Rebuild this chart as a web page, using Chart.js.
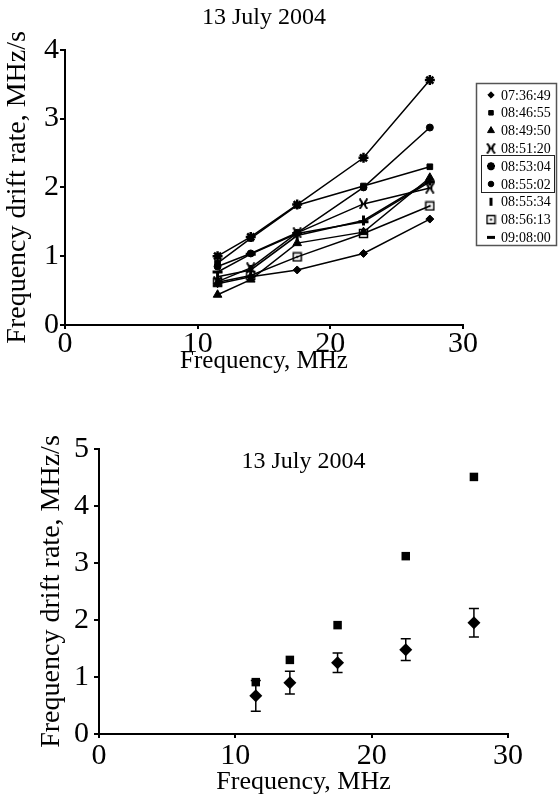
<!DOCTYPE html>
<html>
<head>
    <title>Frequency drift rate, 13 July 2004</title>
    <script src="https://cdn.jsdelivr.net/npm/chart.js"></script>
    <style>
        body { margin: 0; background: #fff; }
        .box { position: absolute; left: 0; }
    </style>
</head>
<body>
<div class="box" style="top:0"><canvas id="topChart" width="558" height="376"></canvas></div>
<div class="box" style="top:400px"><canvas id="bottomChart" width="558" height="398"></canvas></div>
<script>
// frequencies the drift rates were measured at (MHz)
var freqs = [11.5, 14, 17.5, 22.5, 27.5];

// top panel: one series per burst time
var times = ['07:36:49', '08:46:55', '08:49:50', '08:51:20', '08:53:04', '08:55:02', '08:55:34', '08:56:13', '09:08:00'];
var rate0736 = [0.60, 0.70, 0.80, 1.04, 1.54];
var rate0846 = [0.90, 1.26, 1.74, 2.02, 2.30];
var rate0849 = [0.44, 0.66, 1.19, 1.35, 2.14];
var rate0851 = [0.63, 0.83, 1.34, 1.76, 1.99];
var rate0853 = [1.00, 1.28, 1.75, 2.43, 3.56];
var rate0855a = [0.85, 1.04, 1.34, 2.00, 2.87];
var rate0855b = [0.70, 0.80, 1.30, 1.52, 2.10];
var rate0856 = [0.62, 0.72, 0.99, 1.33, 1.73];
var rate0908 = [0.77, 1.03, 1.33, 1.50, 2.08];

// bottom panel: maximum and mean drift rate with spread
var maxRate = [0.91, 1.30, 1.91, 3.12, 4.51];
var meanRate = [0.67, 0.90, 1.25, 1.48, 1.95];
var meanErr = [0.27, 0.20, 0.17, 0.19, 0.25];

var xTicks = [0, 10, 20, 30];

var serif = "'Liberation Serif', 'Times New Roman', serif";
Chart.defaults.font.family = serif;
Chart.defaults.color = '#000';

// a few markers chart.js has no style for
function marker(draw) {
    var c = document.createElement('canvas');
    c.width = 11; c.height = 11;
    var g = c.getContext('2d');
    g.strokeStyle = '#000'; g.fillStyle = '#000';
    draw(g);
    return c;
}
var bowtie = marker(function(g) {
    g.lineWidth = 2;
    g.beginPath();
    g.moveTo(1.5, 0.5); g.quadraticCurveTo(7, 5.5, 1.5, 10.5);
    g.moveTo(9.5, 0.5); g.quadraticCurveTo(4, 5.5, 9.5, 10.5);
    g.moveTo(3, 5.5); g.lineTo(8, 5.5);
    g.stroke();
});
var openSquare = marker(function(g) {
    g.lineWidth = 1.5;
    g.strokeRect(1.5, 1.5, 8, 8);
    g.fillRect(4.5, 4.5, 2, 2);
});

function pts(ys) {
    return freqs.map(function(f, i) { return {x: f, y: ys[i]}; });
}

var styles = [
    {pointStyle: 'rectRot', pointRadius: 4},
    {pointStyle: 'rect', pointRadius: 4},
    {pointStyle: 'triangle', pointRadius: 5},
    {pointStyle: bowtie, pointRadius: 5},
    {pointStyle: 'star', pointRadius: 5, pointBorderWidth: 2.5},
    {pointStyle: 'circle', pointRadius: 3.5},
    {pointStyle: 'line', pointRadius: 5, pointRotation: 90, pointBorderWidth: 3},
    {pointStyle: openSquare, pointRadius: 5},
    {pointStyle: 'line', pointRadius: 5, pointBorderWidth: 3}
];
var series = [rate0736, rate0846, rate0849, rate0851, rate0853, rate0855a, rate0855b, rate0856, rate0908];

var topSets = series.map(function(s, i) {
    return Object.assign({
        label: times[i],
        data: pts(s),
        showLine: true,
        borderColor: '#000',
        backgroundColor: '#000',
        borderWidth: 1.5,
        pointBorderWidth: 1,
        pointBorderColor: '#000',
        pointBackgroundColor: '#000'
    }, styles[i]);
});

// boxed legend at the right of the top panel
var boxLegend = {
    id: 'boxLegend',
    afterDraw: function(chart) {
        var ctx = chart.ctx;
        ctx.save();
        ctx.strokeStyle = '#555';
        ctx.lineWidth = 1.5;
        ctx.strokeRect(476.5, 83.5, 80, 162);
        ctx.strokeStyle = '#222';
        ctx.lineWidth = 1;
        ctx.strokeRect(481.5, 155.5, 73, 37);
        ctx.font = '14px ' + serif;
        ctx.textBaseline = 'middle';
        ctx.textAlign = 'left';
        chart.data.datasets.forEach(function(ds, i) {
            var y = 95 + i * 17.8;
            ctx.fillStyle = '#000';
            ctx.strokeStyle = '#000';
            ctx.lineWidth = ds.pointBorderWidth;
            Chart.helpers.drawPoint(ctx, {
                pointStyle: ds.pointStyle,
                radius: ds.pointRadius * 0.8,
                rotation: ds.pointRotation || 0,
                borderWidth: ds.pointBorderWidth
            }, 491, y);
            ctx.fillStyle = '#000';
            ctx.fillText(ds.label, 501, y + 1);
        });
        ctx.restore();
    }
};

function axis(min, max, step, size) {
    return {
        type: 'linear', min: min, max: max,
        ticks: {stepSize: step, font: {size: 30}, padding: size.pad, maxRotation: 0},
        grid: {drawOnChartArea: false, drawTicks: true, tickLength: size.tick, color: '#000', lineWidth: 2},
        border: {color: '#000', width: 2}
    };
}

var topX = axis(0, 30, 10, {pad: -3, tick: 4});
topX.afterBuildTicks = function(s) { s.ticks = xTicks.map(function(v) { return {value: v}; }); };
topX.title = {display: true, text: 'Frequency, MHz', font: {size: 25}, padding: {top: 0, bottom: 0}};
topX.afterFit = function(s) { s.height = 51; };
var topY = axis(0, 4, 1, {pad: 1, tick: 5});
topY.title = {display: true, text: 'Frequency drift rate, MHz/s', font: {size: 28}, padding: {top: 1, bottom: 0}};
topY.afterFit = function(s) { s.width = 65; };

new Chart(document.getElementById('topChart'), {
    type: 'scatter',
    data: {datasets: topSets},
    options: {
        responsive: false,
        animation: false,
        devicePixelRatio: 1,
        layout: {padding: {left: 0, right: 95, top: 0, bottom: 0}},
        plugins: {
            legend: {display: false},
            tooltip: {enabled: false},
            title: {display: true, text: '13 July 2004', fullSize: false, color: '#000',
                    font: {size: 24, weight: 'normal'}, padding: {top: 3, bottom: 18}}
        },
        scales: {x: topX, y: topY}
    },
    plugins: [boxLegend]
});

// error bars on the mean values
var errorBars = {
    id: 'errorBars',
    beforeDatasetsDraw: function(chart) {
        var ctx = chart.ctx, xs = chart.scales.x, ys = chart.scales.y;
        ctx.save();
        ctx.strokeStyle = '#000';
        ctx.lineWidth = 1.5;
        freqs.forEach(function(f, i) {
            var x = xs.getPixelForValue(f);
            var y1 = ys.getPixelForValue(meanRate[i] + meanErr[i]);
            var y2 = ys.getPixelForValue(meanRate[i] - meanErr[i]);
            ctx.beginPath();
            ctx.moveTo(x, y1); ctx.lineTo(x, y2);
            ctx.moveTo(x - 5, y1); ctx.lineTo(x + 5, y1);
            ctx.moveTo(x - 5, y2); ctx.lineTo(x + 5, y2);
            ctx.stroke();
        });
        ctx.restore();
    }
};

var botX = axis(0, 30, 10, {pad: 0, tick: 4});
botX.afterBuildTicks = topX.afterBuildTicks;
botX.title = {display: true, text: 'Frequency, MHz', font: {size: 26}, padding: {top: 0, bottom: 0}};
botX.afterFit = function(s) { s.height = 64; };
var botY = axis(0, 5, 1, {pad: 5, tick: 5});
botY.title = {display: true, text: 'Frequency drift rate, MHz/s', font: {size: 28}, padding: {top: 35, bottom: 0}};
botY.afterFit = function(s) { s.width = 99; };

new Chart(document.getElementById('bottomChart'), {
    type: 'scatter',
    data: {
        datasets: [
            {label: 'max', data: pts(maxRate), pointStyle: 'rect', pointRadius: 6,
             backgroundColor: '#000', borderColor: '#000', pointBorderWidth: 0},
            {label: 'mean', data: pts(meanRate), pointStyle: 'rectRot', pointRadius: 6.5,
             backgroundColor: '#000', borderColor: '#000', pointBorderWidth: 0}
        ]
    },
    options: {
        responsive: false,
        animation: false,
        devicePixelRatio: 1,
        layout: {padding: {left: 0, right: 50, top: 0, bottom: 0}},
        plugins: {
            legend: {display: false},
            tooltip: {enabled: false},
            title: {display: true, text: '13 July 2004', fullSize: false, color: '#000',
                    font: {size: 24, weight: 'normal'}, padding: {top: 47.6, bottom: -27.4}}
        },
        scales: {x: botX, y: botY}
    },
    plugins: [errorBars]
});
</script>
</body>
</html>
